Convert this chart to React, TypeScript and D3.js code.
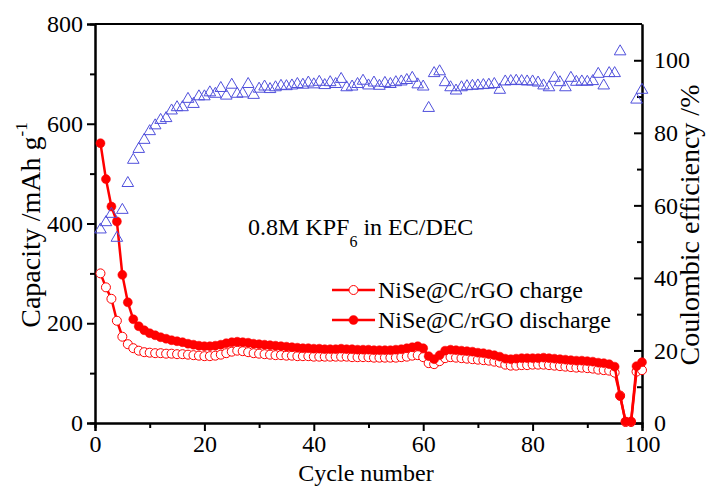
import React, { useEffect, useRef } from "react";
import * as d3 from "d3";

// Cycle index 1..100
const cycles: number[] = Array.from({ length: 100 }, (_, i) => i + 1);

// Discharge capacity, mAh g-1
const dischargeCap: number[] = [
  561, 489, 434, 404, 297, 242, 208, 194, 186, 180,
  176, 172, 169, 166, 164, 162, 159, 157, 155, 154,
  154, 155, 157, 160, 162, 163, 162, 161, 159, 158,
  157, 156, 155, 154, 153, 152, 151, 150, 150, 149,
  149, 148, 148, 148, 149, 148, 148, 147, 147, 147,
  146, 146, 146, 146, 147, 148, 150, 152, 154, 150,
  134, 128, 136, 145, 147, 146, 145, 144, 143, 141,
  140, 138, 136, 133, 129, 128, 129, 130, 130, 130,
  130, 131, 130, 129, 128, 127, 126, 125, 125, 124,
  123, 121, 120, 118, 113, 54, 3, 3, 114, 122,
];

// Charge capacity, mAh g-1
const chargeCap: number[] = [
  300, 272, 249, 205, 173, 158, 150, 145, 142, 141,
  140, 140, 139, 139, 138, 138, 137, 136, 135, 134,
  134, 135, 137, 140, 143, 145, 144, 142, 140, 139,
  138, 137, 136, 136, 135, 135, 134, 134, 134, 133,
  133, 133, 133, 133, 133, 133, 132, 132, 132, 132,
  131, 131, 131, 131, 131, 132, 133, 135, 136, 132,
  120, 118, 124, 130, 132, 131, 130, 129, 128, 127,
  126, 125, 123, 121, 117, 115, 115, 116, 116, 117,
  117, 117, 116, 115, 114, 113, 112, 111, 111, 110,
  109, 107, 106, 105, 101, 55, 2, 2, 103, 106,
];

// Coulombic efficiency, %  (null = not plotted)
const efficiency: (number | null)[] = [
  53.5, 55.5, 57.8, 51.2, 58.9, 66.3, 72.7, 75.7, 78.2, 80.6,
  82.2, 83.7, 84.2, 86.3, 87.2, 87.2, 89.5, 88.1, 90.2, 90.2,
  91.3, 90.9, 92.5, 90.4, 93.4, 90.9, 91.0, 93.6, 90.6, 92.3,
  92.9, 92.2, 92.7, 93.1, 93.0, 93.2, 93.6, 93.4, 94.0, 93.5,
  94.2, 93.3, 94.1, 93.6, 95.0, 92.7, 92.9, 93.6, 94.5, 93.2,
  94.0, 93.1, 93.9, 93.6, 94.1, 94.3, 94.7, 95.3, 93.5, 92.9,
  87.0, 96.6, 97.1, 94.1, 92.7, 91.8, 92.7, 93.0, 93.1, 93.2,
  93.3, 93.4, 93.6, 92.0, 94.3, 94.4, 94.5, 94.4, 94.3, 94.3,
  94.0, 93.2, 92.7, 95.3, 94.1, 92.7, 95.3, 94.2, 94.3, 94.2,
  94.4, 96.4, 93.2, 96.6, 96.6, 102.6, null, null, 89.3, 92.0,
];

const xMajorTicks = [0, 20, 40, 60, 80, 100];
const xMinorTicks = [10, 30, 50, 70, 90];
const capMajorTicks = [0, 200, 400, 600, 800];
const capMinorTicks = [100, 300, 500, 700];
const ceMajorTicks = [0, 20, 40, 60, 80, 100];
const ceMinorTicks = [10, 30, 50, 70, 90];

const legendLabels = ["NiSe@C/rGO charge", "NiSe@C/rGO discharge"];

const W = 707;
const H = 488;
const M = { left: 95, right: 642, top: 24, bottom: 423 };
const FONT = '"Liberation Serif", "Times New Roman", Times, serif';
const RED = "#ff0000";
const BLUE = "#5050dc";

export default function App() {
  const ref = useRef<SVGSVGElement | null>(null);

  useEffect(() => {
    const svg = d3.select(ref.current);
    svg.selectAll("*").remove();

    const x = d3.scaleLinear().domain([0, 100]).range([M.left, M.right]);
    const yCap = d3.scaleLinear().domain([0, 800]).range([M.bottom, M.top]);
    const yCE = d3.scaleLinear().domain([0, 110]).range([M.bottom, M.top]);

    const styleAxis = (g: any) => {
      g.attr("font-family", null).style("font-family", FONT);
      g.selectAll("path.domain").attr("stroke", "#000").attr("stroke-width", 2);
      g.selectAll("line").attr("stroke", "#000").attr("stroke-width", 2);
      g.selectAll("text")
        .style("font-family", FONT)
        .style("font-size", "24px")
        .attr("fill", "#000");
    };

    // bottom axis
    const gx = svg.append("g").attr("transform", `translate(0,${M.bottom})`);
    gx.call(d3.axisBottom(x).tickValues(xMajorTicks).tickSize(8).tickPadding(4).tickFormat(d3.format("d")) as any);
    styleAxis(gx);
    const gxm = svg.append("g").attr("transform", `translate(0,${M.bottom})`);
    gxm.call(d3.axisBottom(x).tickValues(xMinorTicks).tickSize(5).tickFormat(() => "") as any);
    styleAxis(gxm);

    // left axis
    const gy = svg.append("g").attr("transform", `translate(${M.left},0)`);
    gy.call(d3.axisLeft(yCap).tickValues(capMajorTicks).tickSize(8).tickPadding(4).tickFormat(d3.format("d")) as any);
    styleAxis(gy);
    const gym = svg.append("g").attr("transform", `translate(${M.left},0)`);
    gym.call(d3.axisLeft(yCap).tickValues(capMinorTicks).tickSize(5).tickFormat(() => "") as any);
    styleAxis(gym);

    // right axis (ticks pointing inward)
    const gr = svg.append("g").attr("transform", `translate(${M.right},0)`);
    gr.call(d3.axisRight(yCE).tickValues(ceMajorTicks).tickSizeInner(-8).tickSizeOuter(0).tickPadding(12).tickFormat(d3.format("d")) as any);
    styleAxis(gr);
    const grm = svg.append("g").attr("transform", `translate(${M.right},0)`);
    grm.call(d3.axisRight(yCE).tickValues(ceMinorTicks).tickSizeInner(-5).tickSizeOuter(0).tickFormat(() => "") as any);
    styleAxis(grm);

    // top frame
    svg.append("line")
      .attr("x1", M.left).attr("x2", M.right)
      .attr("y1", M.top).attr("y2", M.top)
      .attr("stroke", "#000").attr("stroke-width", 2);

    // capacity series
    const drawSeries = (vals: number[], filled: boolean) => {
      const line = d3.line<number>()
        .x((_, i) => x(cycles[i]))
        .y((d) => yCap(d));
      svg.append("path")
        .datum(vals)
        .attr("d", line)
        .attr("fill", "none")
        .attr("stroke", RED)
        .attr("stroke-width", 2.5)
        .attr("stroke-linejoin", "round");
      svg.append("g")
        .selectAll("circle")
        .data(vals)
        .join("circle")
        .attr("cx", (_, i) => x(cycles[i]))
        .attr("cy", (d) => yCap(d))
        .attr("r", 4.5)
        .attr("fill", filled ? RED : "#fff")
        .attr("stroke", RED)
        .attr("stroke-width", filled ? 0.5 : 1);
    };
    drawSeries(chargeCap, false);
    drawSeries(dischargeCap, true);

    // coulombic efficiency triangles
    const tri = (cx: number, cy: number) => {
      const w = 5.8, h = 10;
      return `M${cx},${cy - h * 0.6}L${cx + w},${cy + h * 0.4}L${cx - w},${cy + h * 0.4}Z`;
    };
    svg.append("g")
      .selectAll("path")
      .data(efficiency.map((v, i) => ({ v, c: cycles[i] })).filter((d) => d.v !== null))
      .join("path")
      .attr("d", (d: any) => tri(x(d.c), yCE(d.v)))
      .attr("fill", "none")
      .attr("stroke", BLUE)
      .attr("stroke-width", 1);

    const txt = (sel: any, size: number) =>
      sel.style("font-family", FONT).style("font-size", `${size}px`).attr("fill", "#000");

    // annotation
    const ann = txt(svg.append("text").attr("x", 248).attr("y", 235), 24);
    ann.append("tspan").text("0.8M KPF");
    ann.append("tspan").attr("dy", 12).style("font-size", "16px").text("6");
    ann.append("tspan").attr("dy", -12).text(" in EC/DEC");

    // legend
    legendLabels.forEach((label, i) => {
      const ly = 290 + i * 30;
      svg.append("line")
        .attr("x1", 332).attr("x2", 375).attr("y1", ly).attr("y2", ly)
        .attr("stroke", RED).attr("stroke-width", 2.5);
      svg.append("circle")
        .attr("cx", 353.5).attr("cy", ly).attr("r", 4.5)
        .attr("fill", i === 0 ? "#fff" : RED)
        .attr("stroke", RED).attr("stroke-width", i === 0 ? 1 : 0.5);
      txt(svg.append("text").attr("x", 378).attr("y", ly + 8), 24).text(label);
    });

    // axis titles
    txt(
      svg.append("text")
        .attr("x", 366).attr("y", 481)
        .attr("text-anchor", "middle"),
      24
    ).text("Cycle number");

    const lt = txt(
      svg.append("text")
        .attr("transform", `translate(40,225) rotate(-90)`)
        .attr("text-anchor", "middle"),
      28
    );
    lt.append("tspan").text("Capacity /mAh g");
    lt.append("tspan").attr("dy", -13).style("font-size", "17px").text("-1");

    txt(
      svg.append("text")
        .attr("transform", `translate(699,225) rotate(-90)`)
        .attr("text-anchor", "middle"),
      28
    ).text("Coulombic efficiency /%");
  }, []);

  return (
    <svg
      ref={ref}
      width={W}
      height={H}
      style={{ position: "absolute", left: 0, top: 0, background: "#fff" }}
    />
  );
}
